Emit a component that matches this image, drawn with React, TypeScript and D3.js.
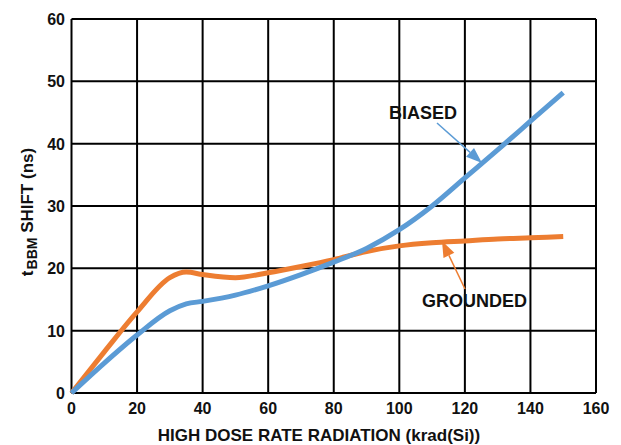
import React from "react";
import * as d3 from "d3";

const xTicks = [0, 20, 40, 60, 80, 100, 120, 140, 160];
const yTicks = [0, 10, 20, 30, 40, 50, 60];

const biasedX = [0, 10, 20, 30, 35, 40, 50, 60, 70, 80, 90, 100, 110, 120, 130, 140, 150];
const biasedY = [0, 4.8, 9.3, 13.2, 14.3, 14.7, 15.7, 17.2, 19.0, 21.0, 23.2, 26.2, 30.0, 34.5, 39.0, 43.6, 48.2];

const groundedX = [0, 10, 20, 30, 35, 40, 50, 60, 70, 80, 90, 100, 110, 120, 130, 140, 150];
const groundedY = [0, 6.6, 13.0, 18.5, 19.4, 19.0, 18.5, 19.3, 20.3, 21.4, 22.7, 23.6, 24.1, 24.4, 24.7, 24.9, 25.1];

const W = 621;
const H = 445;
const left = 71.5;
const right = 596;
const top = 19;
const bottom = 393;

export default function App() {
  const x = d3.scaleLinear().domain([0, 160]).range([left, right]);
  const y = d3.scaleLinear().domain([0, 60]).range([bottom, top]);
  const line = d3
    .line<[number, number]>()
    .x((d) => x(d[0]))
    .y((d) => y(d[1]))
    .curve(d3.curveMonotoneX);
  const biased = line(biasedX.map((v, i) => [v, biasedY[i]] as [number, number])) || "";
  const grounded = line(groundedX.map((v, i) => [v, groundedY[i]] as [number, number])) || "";
  const font = "'Liberation Sans', Arial, sans-serif";
  const blue = "#5b9bd5";
  const orange = "#ed7d31";

  const arrow = (x1: number, y1: number, x2: number, y2: number, color: string) => {
    const ang = Math.atan2(y2 - y1, x2 - x1);
    const len = 16;
    const wid = 6;
    const bx = x2 - len * Math.cos(ang);
    const by = y2 - len * Math.sin(ang);
    const px = -Math.sin(ang) * wid;
    const py = Math.cos(ang) * wid;
    return (
      <g>
        <line x1={x1} y1={y1} x2={bx} y2={by} stroke={color} strokeWidth={1.5} />
        <path d={`M${x2},${y2}L${bx + px},${by + py}L${bx - px},${by - py}Z`} fill={color} />
      </g>
    );
  };

  return (
    <svg width={W} height={H} style={{ position: "absolute", left: 0, top: 0, background: "#fff" }}>
      <rect x={0} y={0} width={W} height={H} fill="#fff" />
      {xTicks.map((t) => (
        <line key={"gx" + t} x1={x(t)} x2={x(t)} y1={top} y2={bottom} stroke="#000" strokeWidth={2} />
      ))}
      {yTicks.map((t) => (
        <line key={"gy" + t} x1={left} x2={right} y1={y(t)} y2={y(t)} stroke="#000" strokeWidth={2} />
      ))}
      <path d={grounded} fill="none" stroke={orange} strokeWidth={5} strokeLinecap="butt" />
      <path d={biased} fill="none" stroke={blue} strokeWidth={5} strokeLinecap="butt" />
      {xTicks.map((t) => (
        <text key={"tx" + t} x={x(t)} y={414} textAnchor="middle" fontFamily={font} fontWeight="bold" fontSize={16} fill="#111">
          {t}
        </text>
      ))}
      {yTicks.map((t) => (
        <text key={"ty" + t} x={65} y={y(t) + 6} textAnchor="end" fontFamily={font} fontWeight="bold" fontSize={16} fill="#111">
          {t}
        </text>
      ))}
      <text x={319} y={441} textAnchor="middle" fontFamily={font} fontWeight="bold" fontSize={17} fill="#111">
        HIGH DOSE RATE RADIATION (krad(Si))
      </text>
      <text transform={`translate(33,212) rotate(-90)`} textAnchor="middle" fontFamily={font} fontWeight="bold" fontSize={17} fill="#111">
        t<tspan fontSize={14} dy={4} dx={1}>BBM</tspan>
        <tspan dy={-4}> SHIFT (ns)</tspan>
      </text>
      <text x={389} y={119} fontFamily={font} fontWeight="bold" fontSize={18} fill="#111">BIASED</text>
      {arrow(437, 123, 482, 163, blue)}
      <text x={422} y={307} fontFamily={font} fontWeight="bold" fontSize={18} fill="#111">GROUNDED</text>
      {arrow(465, 289, 442, 241, orange)}
    </svg>
  );
}
